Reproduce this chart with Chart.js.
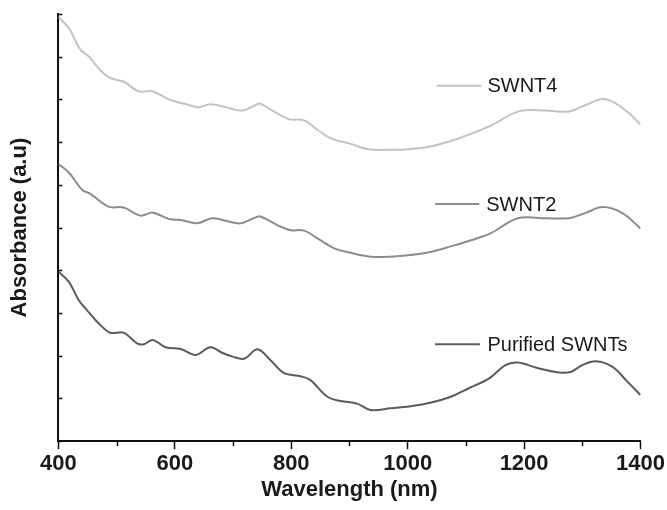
<!DOCTYPE html>
<html>
<head>
<meta charset="utf-8">
<script src="https://cdn.jsdelivr.net/npm/chart.js@4.4.1/dist/chart.umd.min.js"></script>
<style>
  html, body { margin: 0; padding: 0; background: #fff; }
  #wrap { width: 667px; height: 510px; }
</style>
</head>
<body>
<div id="wrap"><canvas id="chart" width="667" height="510"></canvas></div>
<script>
// wavelength (nm) / absorbance (a.u., offset)
const swnt4Nm  = [400,418,438,452,469,484,498,512,538,561,593,613,641,661,687,716,739,747,770,796,822,845,868,902,931,971,1005,1039,1070,1100,1140,1191,1237,1277,1306,1335,1357,1380,1400]
const swnt4Abs = [9.93,9.67,9.16,9.01,8.73,8.54,8.46,8.42,8.19,8.19,7.98,7.91,7.82,7.89,7.82,7.74,7.87,7.90,7.72,7.54,7.51,7.29,7.09,6.96,6.84,6.82,6.84,6.90,7.01,7.15,7.37,7.72,7.74,7.72,7.87,8.01,7.91,7.68,7.41]

const swnt2Nm  = [400,418,441,455,486,512,541,562,590,610,638,664,687,713,739,747,776,799,822,847,873,902,936,971,1005,1039,1074,1110,1143,1189,1237,1277,1305,1335,1369,1400]
const swnt2Abs = [6.49,6.29,5.88,5.79,5.49,5.47,5.28,5.35,5.20,5.18,5.10,5.22,5.16,5.10,5.24,5.26,5.06,4.94,4.93,4.73,4.52,4.41,4.32,4.32,4.36,4.43,4.56,4.71,4.87,5.22,5.22,5.22,5.34,5.48,5.34,4.98]

const purNm  = [400,418,435,449,469,489,512,535,547,562,584,610,636,661,681,699,719,742,764,787,816,833,862,885,913,936,971,1005,1039,1074,1105,1140,1168,1189,1226,1260,1280,1300,1323,1352,1375,1400]
const purAbs = [3.97,3.73,3.30,3.07,2.76,2.54,2.54,2.29,2.27,2.37,2.20,2.16,2.02,2.20,2.07,1.98,1.93,2.15,1.90,1.60,1.52,1.43,1.04,0.94,0.88,0.73,0.77,0.82,0.90,1.04,1.24,1.47,1.78,1.84,1.70,1.61,1.62,1.78,1.87,1.74,1.43,1.08]

const seriesNames  = ["SWNT4", "SWNT2", "Purified SWNTs"]
const seriesColors = ["#c3c3c3", "#8c8c8c", "#5b5b5b"]
const xTickLabels  = [400, 600, 800, 1000, 1200, 1400]

const toPoints = (xs, ys) => xs.map((x, i) => ({ x: x, y: ys[i] }))

// inline labels sit at fixed spots in data space (nm, a.u.)
const labelSpots = [
    { x0: 1050, x1: 1127, tx: 1137, y: 8.32 },
    { x0: 1047, x1: 1123, tx: 1135, y: 5.55 },
    { x0: 1047, x1: 1124, tx: 1137, y: 2.27 },
]

const axisBits = {
    id: "axisBits",
    afterDraw(chart) {
        const ctx = chart.ctx
        const xs = chart.scales.x
        const ys = chart.scales.y
        ctx.save()
        ctx.strokeStyle = "#111"
        ctx.lineWidth = 1.5
        // short inward ticks on the y axis
        ys.ticks.forEach(t => {
            const py = Math.round(ys.getPixelForValue(t.value)) + 0.5
            ctx.beginPath()
            ctx.moveTo(xs.left, py)
            ctx.lineTo(xs.left + 4, py)
            ctx.stroke()
        })
        // minor ticks on x, halfway between labelled ones
        for (let i = 0; i < xTickLabels.length - 1; i++) {
            const v = (xTickLabels[i] + xTickLabels[i + 1]) / 2
            const px = Math.round(xs.getPixelForValue(v)) + 0.5
            ctx.beginPath()
            ctx.moveTo(px, ys.bottom)
            ctx.lineTo(px, ys.bottom + 5)
            ctx.stroke()
        }
        // inline legend
        ctx.font = "20px 'Liberation Sans', Arial, sans-serif"
        ctx.textBaseline = "middle"
        ctx.fillStyle = "#1a1a1a"
        labelSpots.forEach((s, i) => {
            const py = ys.getPixelForValue(s.y)
            ctx.strokeStyle = seriesColors[i]
            ctx.lineWidth = 2
            ctx.beginPath()
            ctx.moveTo(xs.getPixelForValue(s.x0), py)
            ctx.lineTo(xs.getPixelForValue(s.x1), py)
            ctx.stroke()
            ctx.fillText(seriesNames[i], xs.getPixelForValue(s.tx), py + 1)
        })
        ctx.restore()
    }
}

const datasets = [
    toPoints(swnt4Nm, swnt4Abs),
    toPoints(swnt2Nm, swnt2Abs),
    toPoints(purNm, purAbs),
].map((pts, i) => ({
    label: seriesNames[i],
    data: pts,
    borderColor: seriesColors[i],
    borderWidth: 2,
    pointRadius: 0,
    tension: 0.35,
    fill: false,
}))

new Chart(document.getElementById("chart"), {
    type: "line",
    data: { datasets: datasets },
    plugins: [axisBits],
    options: {
        responsive: false,
        animation: false,
        layout: { padding: { left: 7, right: 2, top: 14, bottom: 7 } },
        plugins: {
            legend: { display: false },
            tooltip: { enabled: false },
        },
        scales: {
            x: {
                type: "linear",
                min: 400,
                max: 1400,
                afterBuildTicks: (scale) => { scale.ticks = xTickLabels.map(v => ({ value: v })) },
                ticks: {
                    color: "#1a1a1a",
                    font: { family: "'Liberation Sans', Arial, sans-serif", size: 22, weight: "bold" },
                    padding: 2,
                    maxRotation: 0,
                    callback: (v) => String(v),
                },
                grid: { drawOnChartArea: false, tickLength: 8, tickWidth: 1.5, tickColor: "#111" },
                border: { color: "#111", width: 2 },
                title: {
                    display: true,
                    text: "Wavelength (nm)",
                    color: "#1a1a1a",
                    font: { family: "'Liberation Sans', Arial, sans-serif", size: 22, weight: "bold" },
                    padding: { top: -3, bottom: 0 },
                },
            },
            y: {
                min: 0,
                max: 10,
                ticks: { display: false, stepSize: 1 },
                grid: { drawOnChartArea: false, drawTicks: false },
                border: { color: "#111", width: 2 },
                title: {
                    display: true,
                    text: "Absorbance (a.u)",
                    color: "#1a1a1a",
                    font: { family: "'Liberation Sans', Arial, sans-serif", size: 22, weight: "bold" },
                    padding: { top: 0, bottom: 25 },
                },
            },
        },
    },
})
</script>
</body>
</html>
